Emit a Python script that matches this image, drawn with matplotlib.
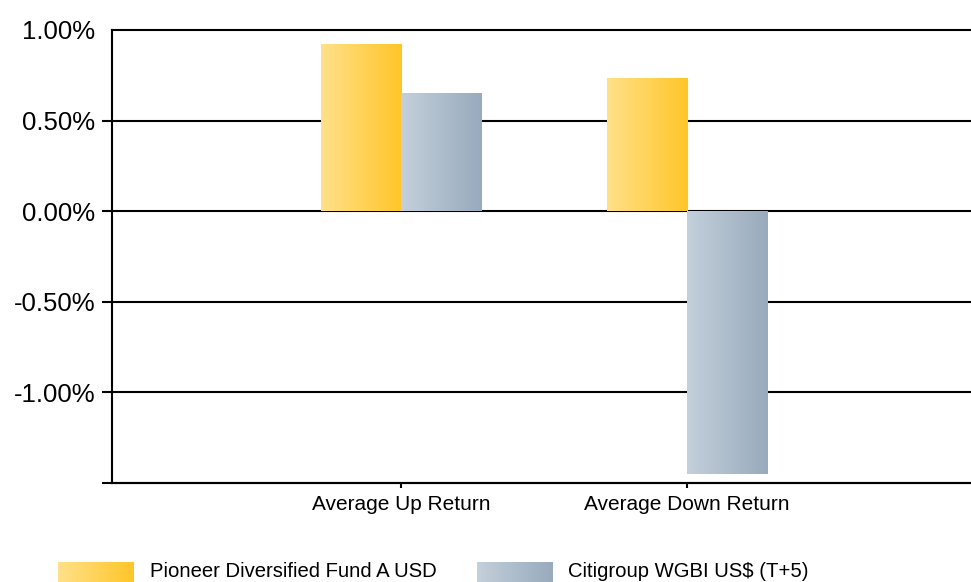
import numpy as np
import matplotlib
matplotlib.use('Agg')
import matplotlib.pyplot as plt
from matplotlib.colors import LinearSegmentedColormap

categories = ['Average Up Return', 'Average Down Return']
series_names = ['Pioneer Diversified Fund A USD', 'Citigroup WGBI US$ (T+5)']
fund_values = [0.92, 0.73]
index_values = [0.65, -1.45]
y_ticks = [-1.5, -1.0, -0.5, 0.0, 0.5, 1.0]
y_tick_labels = ['', '-1.00%', '-0.50%', '0.00%', '0.50%', '1.00%']

plt.rcParams['font.family'] = ['Liberation Sans', 'DejaVu Sans']

W, H = 971, 582
fig = plt.figure(figsize=(W / 100, H / 100), dpi=100)
ax_left, ax_right = 112, 973
ax_top, ax_bottom = 30, 483
ax = fig.add_axes([ax_left / W, (H - ax_bottom) / H,
                   (ax_right - ax_left) / W, (ax_bottom - ax_top) / H])

yellow = LinearSegmentedColormap.from_list('yel', ['#FFE08A', '#FFC629'])
grey = LinearSegmentedColormap.from_list('gry', ['#C4D0DB', '#98AABD'])

x = np.arange(1, len(categories) + 1)
width = 0.28
b1 = ax.bar(x - width / 2, fund_values, width, color='none', zorder=3)
b2 = ax.bar(x + width / 2, index_values, width, color='none', zorder=3)
grad = np.linspace(0, 1, 256).reshape(1, -1)
for bars, cmap in ((b1, yellow), (b2, grey)):
    for p in bars:
        x0 = p.get_x()
        x1 = x0 + p.get_width()
        y0 = p.get_y()
        y1 = y0 + p.get_height()
        ax.imshow(grad, cmap=cmap, extent=(x0, x1, min(y0, y1), max(y0, y1)),
                  aspect='auto', zorder=3, interpolation='bilinear')

ax.set_xlim(-0.01, 3.0)
ax.set_ylim(-1.5, 1.0)
ax.set_xticks(x)
ax.set_xticklabels(categories)
ax.set_yticks(y_ticks)
ax.set_yticklabels(y_tick_labels)

ax.set_axisbelow(True)
ax.yaxis.grid(True, color='black', linewidth=1.5)
for gl in ax.get_ygridlines():
    gl.set_clip_on(False)
for s in ('top', 'right'):
    ax.spines[s].set_visible(False)
for s in ('left', 'bottom'):
    ax.spines[s].set_linewidth(1.5)
    ax.spines[s].set_color('black')

ax.tick_params(axis='y', length=7, width=1.5, pad=5, labelsize=18.5, colors='black')
ax.tick_params(axis='x', length=3.5, width=1.5, pad=5, labelsize=15, colors='black')
ax.yaxis.get_major_ticks()[-1].tick1line.set_visible(False)

# legend drawn in pixel coordinates at the bottom
lax = fig.add_axes([0, 0, 1, 40 / H])
lax.set_xlim(0, W)
lax.set_ylim(H, H - 40)
lax.axis('off')
leg_items = [(58, 134, 150, yellow, series_names[0]),
             (477, 553, 568, grey, series_names[1])]
for px0, px1, tx, cmap, name in leg_items:
    lax.imshow(grad, cmap=cmap, extent=(px0, px1, H + 2, 562), aspect='auto',
               interpolation='bilinear')
    lax.text(tx, 577, name, fontsize=14.6, va='baseline', ha='left', color='black')
lax.set_xlim(0, W)
lax.set_ylim(H, H - 40)

fig.savefig('out.png', dpi=100)
